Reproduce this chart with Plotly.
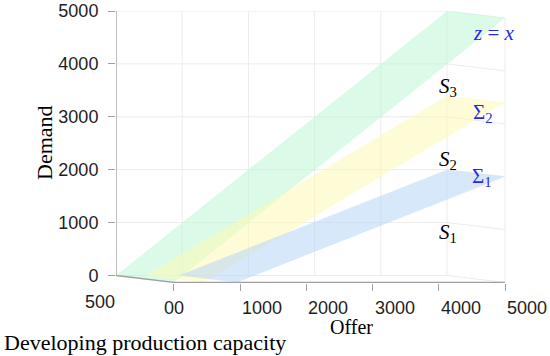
import plotly.graph_objects as go

# ---------------- data ----------------
OFFER_TICKS = [0, 1000, 2000, 3000, 4000, 5000]
OFFER_TICK_TEXT = ["00", "1000", "2000", "3000", "4000", "5000"]
DEMAND_TICKS = [0, 1000, 2000, 3000, 4000, 5000]
DEMAND_TICK_TEXT = ["0", "1000", "2000", "3000", "4000", "5000"]
DEPTH_TICK_TEXT = ["500"]

# bands (planes through the capacity depth): offer where demand = 0, demand at offer 5000
BAND_NAMES = ["z = x", "Sigma2", "Sigma1"]
BAND_OFFER_START = [0, 450, 950]
BAND_OFFER_END = [5000, 5000, 5000]
BAND_DEMAND_END = [5000, 3400, 2000]
BAND_COLORS = ["rgba(192,246,214,0.55)", "rgba(252,250,180,0.55)", "rgba(184,214,248,0.55)"]

# text labels (offer, demand) in back-wall coordinates
SURF_LABELS = ["<i>z</i> = <i>x</i>", "Σ<sub>2</sub>", "Σ<sub>1</sub>"]
SURF_LABEL_OFFER = [5710, 5544, 5529]
SURF_LABEL_DEMAND = [4584, 3072, 1862]
REGION_LABELS = ["<i>S</i><sub>3</sub>", "<i>S</i><sub>2</sub>", "<i>S</i><sub>1</sub>"]
REGION_LABEL_OFFER = [5015, 5015, 5015]
REGION_LABEL_DEMAND = [3563, 2183, 803]

# ---------------- projection of the depth axis ----------------
DX, DZ = 876, -132   # screen shift from back wall to front, in axis units


def front(o, d):
    return o + DX, d + DZ


SERIF = "Liberation Serif, Times New Roman, serif"
SANS = "Liberation Sans, Arial, sans-serif"
GRID = "rgb(236,236,236)"
AXC = "rgb(160,160,160)"

fig = go.Figure()


def seg(x0, y0, x1, y1, color, width):
    fig.add_trace(go.Scatter(x=[x0, x1], y=[y0, y1], mode="lines",
                             line=dict(color=color, width=width),
                             hoverinfo="skip", showlegend=False))


# back wall grid
for o in OFFER_TICKS[1:]:
    seg(o, 0, o, DEMAND_TICKS[-1], GRID, 1)
for d in DEMAND_TICKS:
    seg(0, d, OFFER_TICKS[-1], d, GRID, 1)
# right wall grid
omax = OFFER_TICKS[-1]
for d in DEMAND_TICKS:
    fx, fy = front(omax, d)
    seg(omax, d, fx, fy, GRID, 1)
fx0, fy0 = front(omax, 0)
fx1, fy1 = front(omax, DEMAND_TICKS[-1])
seg(fx0, fy0, fx1, fy1, GRID, 1)

# bands
for s, oe, de, col in zip(BAND_OFFER_START, BAND_OFFER_END, BAND_DEMAND_END, BAND_COLORS):
    fs = front(s, 0)
    fe = front(oe, de)
    fig.add_trace(go.Scatter(x=[s, oe, fe[0], fs[0], s], y=[0, de, fe[1], fs[1], 0],
                             mode="lines", fill="toself", fillcolor=col,
                             line=dict(width=0), hoverinfo="skip", showlegend=False))

# axis lines
seg(0, 0, 0, DEMAND_TICKS[-1], AXC, 1.3)
f0 = front(0, 0)
seg(0, 0, f0[0], f0[1], AXC, 1.3)
f5 = front(omax, 0)
seg(f0[0], f0[1], f5[0], f5[1], AXC, 1.3)

# labels on surfaces / regions
for t, o, d in zip(SURF_LABELS, SURF_LABEL_OFFER, SURF_LABEL_DEMAND):
    fig.add_annotation(x=o, y=d, text=t, showarrow=False, xanchor="center", yanchor="middle",
                       font=dict(family=SERIF, size=21, color="rgb(40,40,235)"))
for t, o, d in zip(REGION_LABELS, REGION_LABEL_OFFER, REGION_LABEL_DEMAND):
    fig.add_annotation(x=o, y=d, text=t, showarrow=False, xanchor="center", yanchor="middle",
                       font=dict(family=SERIF, size=21, color="black"))

# offer tick labels (front axis)
for i, (o, t) in enumerate(zip(OFFER_TICKS, OFFER_TICK_TEXT)):
    fig.add_annotation(x=front(o, 0)[0], y=-0.092, xref="x", yref="paper", text=t,
                       showarrow=False, xanchor="center" if i == 0 else "left", yanchor="middle",
                       font=dict(family=SANS, size=18, color="rgb(30,30,30)"))
# depth tick label
fig.add_annotation(x=0, y=-0.07, xref="x", yref="paper", text=DEPTH_TICK_TEXT[0],
                   showarrow=False, xanchor="right", yanchor="middle", xshift=1,
                   font=dict(family=SANS, size=18, color="rgb(30,30,30)"))

# axis titles
fig.add_annotation(x=-0.182, y=0.515, xref="paper", yref="paper", text="Demand", textangle=-90,
                   showarrow=False, xanchor="center", yanchor="middle",
                   font=dict(family=SERIF, size=22, color="black"))
fig.add_annotation(x=0.605, y=-0.163, xref="paper", yref="paper", text="Offer",
                   showarrow=False, xanchor="center", yanchor="middle",
                   font=dict(family=SERIF, size=20, color="black"))
fig.add_annotation(x=-0.292, y=-0.217, xref="paper", yref="paper", text="Developing production capacity",
                   showarrow=False, xanchor="left", yanchor="middle",
                   font=dict(family=SERIF, size=22, color="black"))

XR = [0, 5891]
fig.update_layout(
    width=550, height=356,
    margin=dict(l=116, r=44, t=11, b=73, autoexpand=False),
    plot_bgcolor="white", paper_bgcolor="white",
    showlegend=False,
    xaxis=dict(range=XR, showgrid=False, zeroline=False, showline=False,
               showticklabels=False, ticks="", automargin=False),
    xaxis2=dict(range=[XR[0] - DX, XR[1] - DX], overlaying="x", anchor="y", side="bottom",
                tickvals=OFFER_TICKS, ticks="outside", ticklen=7, tickcolor=AXC, tickwidth=1.3,
                showticklabels=False, showgrid=False, zeroline=False, showline=False,
                automargin=False),
    yaxis=dict(range=[DZ - 10, 5000], tickvals=DEMAND_TICKS, ticktext=DEMAND_TICK_TEXT,
               ticks="outside", ticklen=7, tickcolor=AXC, tickwidth=1.3, automargin=False,
               showgrid=False, zeroline=False, showline=False, ticklabelstandoff=6,
               tickfont=dict(family=SANS, size=18, color="rgb(30,30,30)")),
)
# dummy trace to activate xaxis2
fig.add_trace(go.Scatter(x=[0], y=[0], xaxis="x2", mode="markers", marker=dict(opacity=0),
                         hoverinfo="skip", showlegend=False))

fig.write_html("out.html", config={"displayModeBar": False},
               post_script="document.body.style.margin='0px';")
